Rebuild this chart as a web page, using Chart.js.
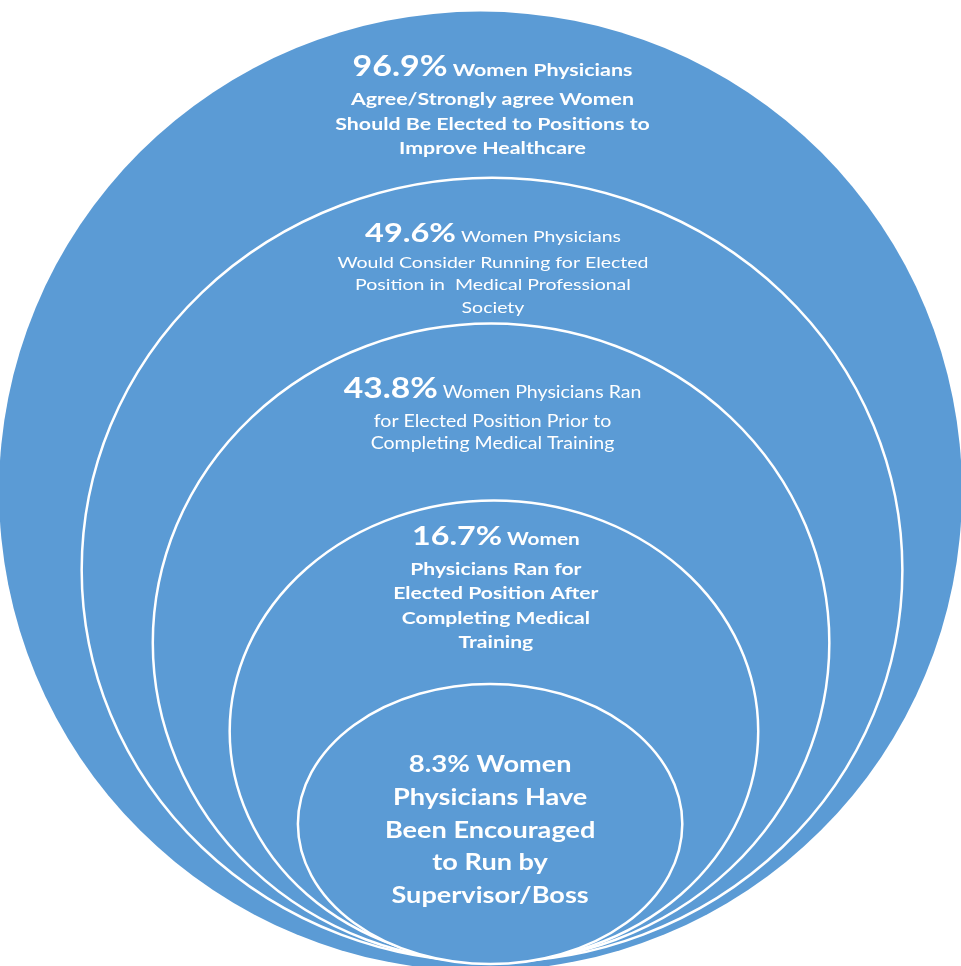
<!DOCTYPE html>
<html>
<head>
<meta charset="utf-8">
<script src="https://cdn.jsdelivr.net/npm/chart.js@4"></script>
<style>
  html, body { margin: 0; padding: 0; background: #fff; }
  #wrap { width: 961px; height: 966px; }
</style>
</head>
<body>
<div id="wrap"><canvas id="chart" width="961" height="966"></canvas></div>
<script>
// survey results, outer ring first
const pctValues = [96.9, 49.6, 43.8, 16.7, 8.3];
const headTexts = ['Women Physicians', 'Women Physicians', 'Women Physicians Ran', 'Women', 'Women'];
const bodyLines = [
  ['Agree/Strongly agree Women', 'Should Be Elected to Positions to', 'Improve Healthcare'],
  ['Would Consider Running for Elected', 'Position in  Medical Professional', 'Society'],
  ['for Elected Position Prior to', 'Completing Medical Training'],
  ['Physicians Ran for', 'Elected Position After', 'Completing Medical', 'Training'],
  ['Physicians Have', 'Been Encouraged', 'to Run by', 'Supervisor/Boss']
];

// ring layout in axis units (x: -50..50, y: 0..100)
const ringCenterX = [0, 1.2, 1.1, 1.4, 1.0];
const ringTop = [98.8, 81.6, 66.5, 48.2, 29.2];
const ringBottom = [-0.5, 0.4, 0.4, 0.4, 0.2];
const ringHalfWidth = [50.1, 42.7, 35.2, 27.5, 20.0];
const labelX = [1.25, 1.3, 1.25, 1.6, 1.0];
const labelY = [92.1, 75.0, 58.8, 43.6, 20.1];

// text styles
const pctSize = [28.3, 27.1, 28, 26.8, 23];
const headSize = [17.9, 16.2, 16.3, 17.3, 22.6];
const bodySize = [17.8, 16.25, 16.3, 17.6, 22.6];
const bodyBold = [true, false, false, true, true];
const headGap = [29, 26, 29, 30, 33];
const lineGap = [24.5, 22.5, 22, 24.5, 32.7];
const textStretch = 1.2;
const FAMILY = 'Lato, "Open Sans", sans-serif';

function font(size, bold) {
  return (bold ? 'bold ' : '') + size + 'px ' + FAMILY;
}

function drawStretched(ctx, txt, x, y) {
  ctx.save();
  ctx.translate(x, y);
  ctx.scale(textStretch, 1);
  ctx.fillText(txt, 0, 0);
  ctx.restore();
}

const ringsPlugin = {
  id: 'rings',
  beforeDatasetsDraw(chart) {
    const ctx = chart.ctx;
    const xs = chart.scales.x, ys = chart.scales.y;
    ringTop.forEach((top, i) => {
      const cx = xs.getPixelForValue(ringCenterX[i]);
      const yTop = ys.getPixelForValue(top);
      const yBot = ys.getPixelForValue(ringBottom[i]);
      const rx = xs.getPixelForValue(ringCenterX[i] + ringHalfWidth[i]) - cx;
      ctx.save();
      ctx.beginPath();
      ctx.ellipse(cx, (yTop + yBot) / 2, rx, (yBot - yTop) / 2, 0, 0, Math.PI * 2);
      ctx.fillStyle = '#5b9bd5';
      ctx.fill();
      if (i > 0) {
        ctx.strokeStyle = '#ffffff';
        ctx.lineWidth = 2.5;
        ctx.stroke();
      }
      ctx.restore();
    });
  },
  afterDatasetsDraw(chart) {
    const ctx = chart.ctx;
    const pts = chart.getDatasetMeta(0).data;
    pts.forEach((pt, i) => {
      ctx.save();
      ctx.fillStyle = '#ffffff';
      ctx.textBaseline = 'alphabetic';

      // first line: big percentage + heading
      const pctTxt = pctValues[i].toFixed(1) + '%';
      const headTxt = ' ' + headTexts[i];
      ctx.font = font(pctSize[i], true);
      const wPct = ctx.measureText(pctTxt).width * textStretch;
      ctx.font = font(headSize[i], bodyBold[i]);
      const wHead = ctx.measureText(headTxt).width * textStretch;
      let x0 = pt.x - (wPct + wHead) / 2;
      ctx.textAlign = 'left';
      ctx.font = font(pctSize[i], true);
      drawStretched(ctx, pctTxt, x0, pt.y);
      ctx.font = font(headSize[i], bodyBold[i]);
      drawStretched(ctx, headTxt, x0 + wPct, pt.y);

      // remaining lines
      ctx.textAlign = 'center';
      ctx.font = font(bodySize[i], bodyBold[i]);
      bodyLines[i].forEach((line, j) => {
        drawStretched(ctx, line, pt.x, pt.y + headGap[i] + j * lineGap[i]);
      });
      ctx.restore();
    });
  }
};

const ctx = document.getElementById('chart').getContext('2d');
new Chart(ctx, {
  type: 'scatter',
  data: {
    datasets: [{
      data: pctValues.map((v, i) => ({ x: labelX[i], y: labelY[i] })),
      pointRadius: 0,
      pointHoverRadius: 0
    }]
  },
  options: {
    responsive: false,
    animation: false,
    devicePixelRatio: 1,
    layout: { padding: 0 },
    scales: {
      x: { type: 'linear', min: -50, max: 50, display: false },
      y: { type: 'linear', min: 0, max: 100, display: false }
    },
    plugins: {
      legend: { display: false },
      tooltip: { enabled: false }
    }
  },
  plugins: [ringsPlugin]
});
</script>
</body>
</html>
